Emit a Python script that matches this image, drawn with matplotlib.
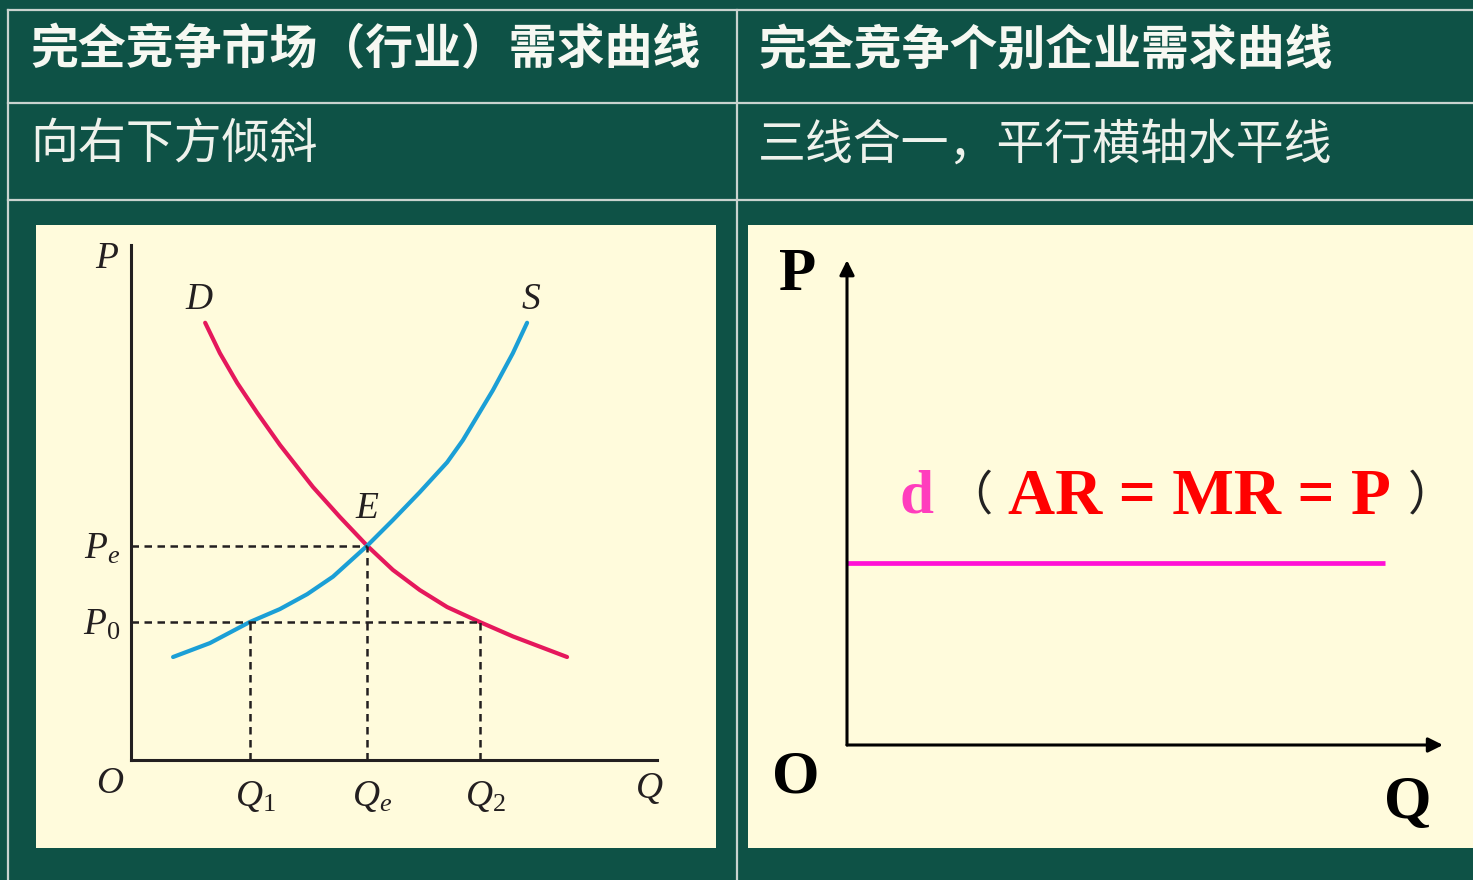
import matplotlib
matplotlib.use("Agg")
import matplotlib.pyplot as plt
from matplotlib.patches import Rectangle

plt.rcParams['mathtext.fontset'] = 'custom'
plt.rcParams['mathtext.it'] = 'Liberation Serif:italic'
plt.rcParams['mathtext.rm'] = 'Liberation Serif'

# table text
header_left = "完全竞争市场（行业）需求曲线"
header_right = "完全竞争个别企业需求曲线"
desc_left = "向右下方倾斜"
desc_right = "三线合一，平行横轴水平线"

# left chart: market demand / supply (Q, P)
demand_q = [1.41, 1.69, 2.02, 2.40, 2.83, 3.46, 3.97, 4.49, 4.98, 5.49, 6.01, 6.63, 7.26, 8.29]
demand_p = [8.49, 7.90, 7.32, 6.74, 6.12, 5.30, 4.72, 4.16, 3.69, 3.30, 2.97, 2.68, 2.40, 2.00]
supply_q = [0.80, 1.50, 2.26, 2.83, 3.35, 3.84, 4.49, 4.98, 5.49, 6.01, 6.31, 6.88, 7.26, 7.53]
supply_p = [2.00, 2.27, 2.68, 2.93, 3.22, 3.56, 4.16, 4.66, 5.20, 5.78, 6.21, 7.18, 7.90, 8.49]
q_marks = [2.26, 4.49, 6.63]
q_labels = [r'$Q_\mathrm{1}$', r'$Q_e$', r'$Q_\mathrm{2}$']
p_marks = [4.16, 2.68]
p_labels = [r'$P_e$', r'$P_\mathrm{0}$']

# right chart: firm demand line d
firm_q = [0.0, 9.07]
firm_p = [3.79, 3.79]

BG = '#0e5246'
CREAM = '#fffbdc'
GRID = '#c9d3cf'
W, H = 1473, 880

fig = plt.figure(figsize=(W / 100, H / 100), dpi=100)
fig.patch.set_facecolor(BG)

bg = fig.add_axes([0, 0, 1, 1])
bg.set_xlim(0, W)
bg.set_ylim(H, 0)
bg.axis('off')

# table grid
for y in [10, 103, 200]:
    bg.plot([8, W], [y, y], color=GRID, lw=1.6)
bg.plot([8, 8], [10, H], color=GRID, lw=1.6)
bg.plot([737, 737], [10, H], color=GRID, lw=1.6)

cjk = ['Noto Sans CJK SC', 'DejaVu Sans']
bg.text(30, 50, header_left, color='#f6f8f2', fontsize=34.5, family=cjk,
        fontweight='bold', va='center', ha='left')
bg.text(758, 50, header_right, color='#f6f8f2', fontsize=34.5, family=cjk,
        fontweight='bold', va='center', ha='left')
bg.text(30, 145, desc_left, color='#eef2ec', fontsize=34.5, family=cjk,
        va='center', ha='left')
bg.text(758, 145, desc_right, color='#eef2ec', fontsize=34.5, family=cjk,
        va='center', ha='left')

bg.add_patch(Rectangle((36, 225), 680, 623, facecolor=CREAM, edgecolor='none'))
bg.add_patch(Rectangle((748, 225), 730, 623, facecolor=CREAM, edgecolor='none'))

# ---- left chart
ax1 = fig.add_axes([131 / W, (H - 760) / H, 526 / W, 515 / H])
ax1.set_xlim(0, 10)
ax1.set_ylim(0, 10)
ax1.patch.set_alpha(0)
for s in ['top', 'right']:
    ax1.spines[s].set_visible(False)
for s in ['left', 'bottom']:
    ax1.spines[s].set_linewidth(2.2)
    ax1.spines[s].set_color('#231f20')
ax1.set_xticks([])
ax1.set_yticks([])

ax1.plot(demand_q, demand_p, color='#e5185c', lw=3, solid_capstyle='round',
         solid_joinstyle='round')
ax1.plot(supply_q, supply_p, color='#1b9fd6', lw=3, solid_capstyle='round',
         solid_joinstyle='round')

dash = dict(color='#231f20', lw=1.8, ls=(0, (3, 2.2)))
ax1.plot([0, q_marks[1]], [p_marks[0], p_marks[0]], **dash)
ax1.plot([0, q_marks[2]], [p_marks[1], p_marks[1]], **dash)
ax1.plot([q_marks[0], q_marks[0]], [0, p_marks[1]], **dash)
ax1.plot([q_marks[1], q_marks[1]], [0, p_marks[0]], **dash)
ax1.plot([q_marks[2], q_marks[2]], [0, p_marks[1]], **dash)

lab = dict(fontsize=27, color='#231f20', ha='center', va='center', clip_on=False)
for q, t in zip(q_marks, q_labels):
    ax1.text(q + 0.1, -0.7, t, **lab)
for p, t in zip(p_marks, p_labels):
    ax1.text(-0.55, p - 0.05, t, **lab)
ax1.text(-0.4, -0.45, r'$O$', **lab)
ax1.text(9.85, -0.55, r'$Q$', **lab)
ax1.text(-0.45, 9.75, r'$P$', **lab)
ax1.text(1.3, 8.95, r'$D$', **lab)
ax1.text(7.6, 8.95, r'$S$', **lab)
ax1.text(4.5, 4.9, r'$E$', **lab)

# ---- right chart
ax2 = fig.add_axes([847 / W, (H - 745) / H, 593 / W, 480 / H])
ax2.set_xlim(0, 10)
ax2.set_ylim(0, 10)
ax2.axis('off')
arrow = dict(arrowstyle='-|>', lw=2.2, color='black', mutation_scale=22, shrinkA=0, shrinkB=0)
ax2.annotate('', xy=(0, 10.1), xytext=(0, 0), arrowprops=arrow, annotation_clip=False)
ax2.annotate('', xy=(10.05, 0), xytext=(0, 0), arrowprops=arrow, annotation_clip=False)
ax2.plot(firm_q, firm_p, color='#ff10d6', lw=3.4, solid_capstyle='butt')

serif_b = dict(family='Liberation Serif', fontweight='bold', ha='center', va='center', clip_on=False)
ax2.text(-0.84, 9.8, 'P', fontsize=44, color='black', **serif_b)
ax2.text(-0.87, -0.68, 'O', fontsize=44, color='black', **serif_b)
ax2.text(9.45, -1.2, 'Q', fontsize=44, color='black', **serif_b)
ax2.text(1.17, 5.15, 'd', fontsize=44, color='#ff3dbd', **serif_b)
ax2.text(2.05, 5.18, '（', fontsize=34, color='#222222', family=cjk, ha='center', va='center')
ax2.text(5.95, 5.15, 'AR = MR = P', fontsize=47, color='#ff0000', **serif_b)
ax2.text(9.85, 5.18, '）', fontsize=34, color='#222222', family=cjk, ha='center', va='center',
         clip_on=False)

fig.savefig('out.png', dpi=100, facecolor=BG)
